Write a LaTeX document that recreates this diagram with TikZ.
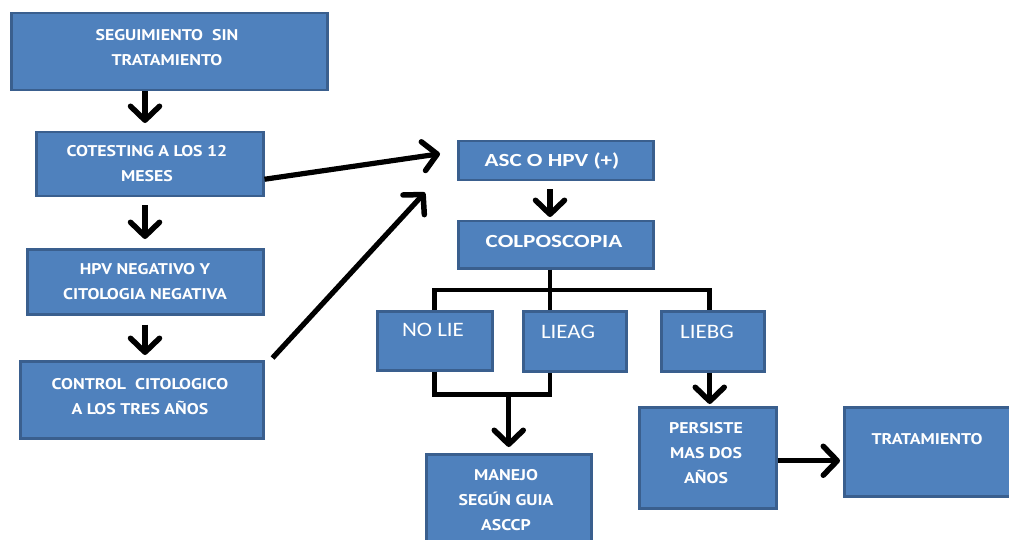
\documentclass[tikz,border=0pt]{standalone}
\usepackage{fontspec}
\setmainfont{PT Sans}
\newfontfamily\widesans[FakeStretch=1.15]{PT Sans}
\newfontfamily\widecal[FakeStretch=1.25]{Carlito}
\newfontfamily\plaincal[FakeStretch=1.12]{Carlito}
\usetikzlibrary{arrows.meta,calc}
\definecolor{boxfill}{HTML}{4F81BD}
\definecolor{boxline}{HTML}{3A5F8E}
\begin{document}
\begin{tikzpicture}[x=1pt,y=-1pt,
  box/.style={draw=boxline,fill=boxfill,line width=2.5pt,inner sep=0pt,anchor=north west},
  lbl/.style={text=white,font=\widesans\bfseries\fontsize{15.5}{25}\selectfont,align=center},
  clbl/.style={text=white,font=\widecal\bfseries\fontsize{18.5}{22}\selectfont},
  rlbl/.style={text=white,font=\plaincal\fontsize{20.5}{24}\selectfont},
  conn/.style={line width=4.6pt,line join=miter},
  arr/.style={conn,line width=5.2pt,-{Straight Barb[length=14pt,width=29pt,line width=5.5pt,round]}}]
\useasboundingbox (0,0) rectangle (1009,540);
% boxes
\node[box,minimum width=316pt,minimum height=77pt] (seg) at (10,12) {};
\node[box,minimum width=227pt,minimum height=64pt] (cot) at (35,131) {};
\node[box,minimum width=236pt,minimum height=65pt] (hpv) at (26,248) {};
\node[box,minimum width=243pt,minimum height=77pt] (ctrl) at (19,360) {};
\node[box,minimum width=195pt,minimum height=39pt] (asc) at (457,140) {};
\node[box,minimum width=195pt,minimum height=47pt] (colpo) at (457,220) {};
\node[box,minimum width=115pt,minimum height=59pt] (nolie) at (376,310) {};
\node[box,minimum width=103pt,minimum height=60pt] (lieag) at (522,310) {};
\node[box,minimum width=103pt,minimum height=60pt] (liebg) at (660,310) {};
\node[box,minimum width=165pt,minimum height=100pt] (manejo) at (425,453) {};
\node[box,minimum width=137pt,minimum height=101pt] (pers) at (638,406) {};
\node[box,minimum width=180pt,minimum height=89pt] (trat) at (843,406) {};
% texts
\node[lbl] at (167,48) {SEGUIMIENTO\ \ SIN\\TRATAMIENTO};
\node[lbl] at (147,164) {COTESTING A LOS 12\\MESES};
\node[lbl] at (145,282) {HPV NEGATIVO Y\\CITOLOGIA NEGATIVA};
\node[lbl] at (140,397) {CONTROL\ \ CITOLOGICO\\A LOS TRES\ AÑOS};
\node[clbl] at (552,161) {ASC O HPV (+)};
\node[clbl] at (554,241) {COLPOSCOPIA};
\node[rlbl] at (433,330) {NO LIE};
\node[rlbl] at (568,332) {LIEAG};
\node[rlbl] at (707,332) {LIEBG};
\node[lbl] at (506,500) {MANEJO\\SEGÚN GUIA\\ASCCP};
\node[lbl] at (706,453) {PERSISTE\\MAS DOS\\AÑOS};
\node[lbl] at (927,439) {TRATAMIENTO};
% left column
\coordinate (xl) at (145,0);
\draw[arr,shorten >=8pt] (seg.south -| xl) -- (cot.north -| xl);
\draw[arr,shorten <=8pt,shorten >=9pt] (cot.south -| xl) -- (hpv.north -| xl);
\draw[arr,shorten <=9pt,shorten >=5pt] (hpv.south -| xl) -- (ctrl.north -| xl);
% diagonal arrows into ASC
\draw[arr] ([yshift=-15pt]cot.east) -- ([xshift=-17pt,yshift=7pt]asc.west);
\draw[arr] ([xshift=8pt,yshift=2pt]ctrl.north east) -- ([xshift=-32pt,yshift=-11pt]asc.south west);
% colposcopy branch
\coordinate (xc) at (550,0);
\draw[arr,shorten <=8pt,shorten >=3pt] (asc.south -| xc) -- (colpo.north -| xc);
\draw[conn] (colpo.south -| xc) -- (lieag.north -| xc);
\draw[conn] (nolie.north) -- ++(0,-20) -| ([xshift=-3pt]liebg.north);
\draw[conn] (nolie.south) -- ++(0,23) -| (lieag.south -| xc);
\draw[arr,shorten >=6pt] ([yshift=-23pt]manejo.north |- nolie.south) -- (manejo.north);
\draw[arr,shorten >=2pt] ([xshift=-3pt]liebg.south) -- ([xshift=-3pt]liebg.south |- pers.north);
\draw[arr,shorten >=3pt] ([yshift=-3pt]pers.east) -- ([yshift=-3pt]pers.east -| trat.west);
\end{tikzpicture}
\end{document}
